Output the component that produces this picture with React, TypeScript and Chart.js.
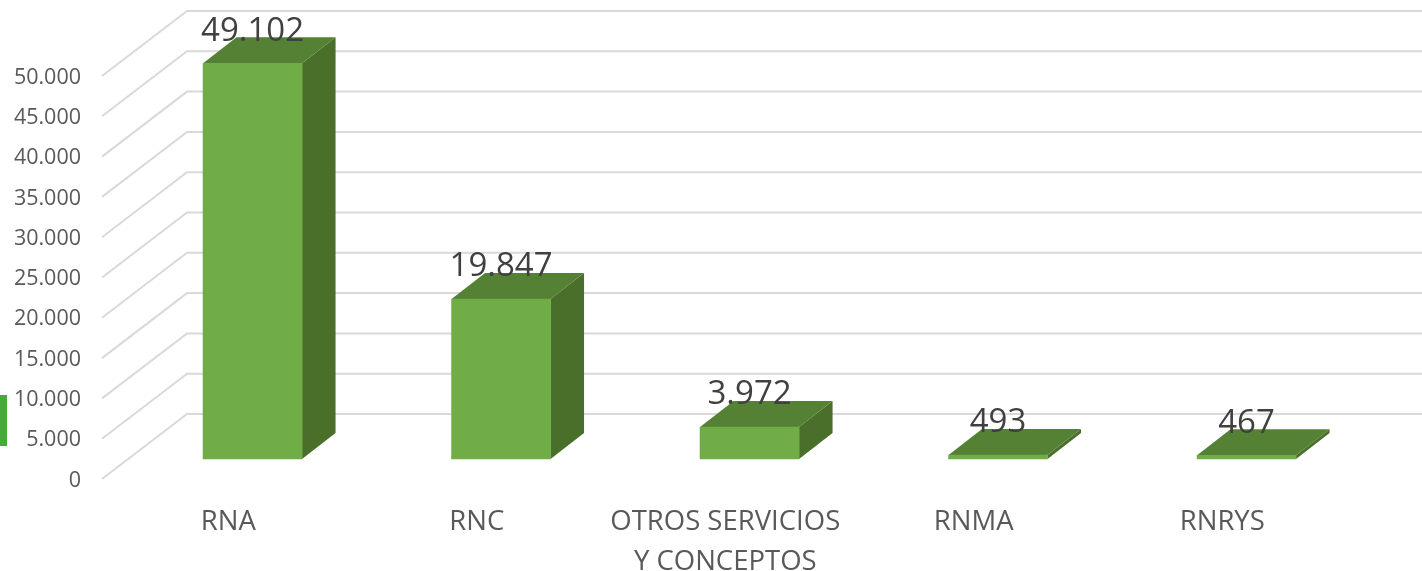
import React, { useEffect, useRef } from "react";
import { Chart, registerables } from "chart.js";

Chart.register(...registerables);

const categories: (string | string[])[] = ["RNA", "RNC", ["OTROS SERVICIOS", "Y CONCEPTOS"], "RNMA", "RNRYS"];
const values = [49102, 19847, 3972, 493, 467];
const valueLabels = ["49.102", "19.847", "3.972", "493", "467"];
const tickStep = 5000;
const axisMax = 50000;

const FONT = '"Open Sans", "Noto Sans", sans-serif';
const BAR_SHIFT = { x: 24.3, y: -20 };
const BAR_DEPTH = { x: 33.5, y: -26 };
const WALL_DEPTH = { x: 85, y: -65 };

const poly = (ctx: CanvasRenderingContext2D, pts: number[][], color: string) => {
  ctx.beginPath();
  pts.forEach(([x, y], i) => (i ? ctx.lineTo(x, y) : ctx.moveTo(x, y)));
  ctx.closePath();
  ctx.fillStyle = color;
  ctx.fill();
};

const perspective = {
  id: "perspective",
  beforeDatasetsDraw(chart: any) {
    const { ctx, chartArea, scales } = chart;
    ctx.save();
    ctx.strokeStyle = "#d9d9d9";
    ctx.lineWidth = 2;
    scales.y.ticks.forEach((t: any) => {
      const y = scales.y.getPixelForValue(t.value);
      const x0 = chartArea.left - 2;
      ctx.beginPath();
      ctx.moveTo(x0, y);
      ctx.lineTo(x0 + WALL_DEPTH.x, y + WALL_DEPTH.y);
      ctx.lineTo(chartArea.right + WALL_DEPTH.x, y + WALL_DEPTH.y);
      ctx.stroke();
    });
    ctx.restore();
  },
  beforeDatasetDraw(chart: any, args: any) {
    const { ctx } = chart;
    ctx.save();
    ctx.translate(BAR_SHIFT.x, BAR_SHIFT.y);
    args.meta.data.forEach((bar: any) => {
      const l = bar.x - bar.width / 2;
      const r = bar.x + bar.width / 2;
      const d = BAR_DEPTH;
      poly(ctx, [[r, bar.y], [r + d.x, bar.y + d.y], [r + d.x, bar.base + d.y], [r, bar.base]], "#4a6f2b");
      poly(ctx, [[l, bar.y], [l + d.x, bar.y + d.y], [r + d.x, bar.y + d.y], [r, bar.y]], "#558135");
    });
  },
  afterDatasetDraw(chart: any) {
    chart.ctx.restore();
  },
  afterDatasetsDraw(chart: any) {
    const { ctx } = chart;
    const meta = chart.getDatasetMeta(0);
    ctx.save();
    ctx.font = `33px ${FONT}`;
    ctx.fillStyle = "#404040";
    ctx.textAlign = "center";
    ctx.textBaseline = "middle";
    meta.data.forEach((bar: any, i: number) => {
      ctx.fillText(valueLabels[i], bar.x + BAR_SHIFT.x, bar.y + BAR_SHIFT.y - 32);
    });
    ctx.restore();
  },
};

export default function App() {
  const ref = useRef<HTMLCanvasElement>(null);
  useEffect(() => {
    const chart = new Chart(ref.current!, {
      type: "bar",
      data: {
        labels: categories as any,
        datasets: [
          {
            data: values,
            backgroundColor: "#70ad47",
            barThickness: 99,
            clip: false as any,
          },
        ],
      },
      options: {
        responsive: false,
        animation: false,
        layout: { padding: { top: 76, right: 75.5, left: 0, bottom: 0 } },
        plugins: { legend: { display: false }, tooltip: { enabled: false } },
        scales: {
          x: {
            grid: { display: false, drawTicks: false },
            border: { display: false },
            afterFit: (s: any) => { s.height = 92; },
            ticks: {
              maxRotation: 0,
              minRotation: 0,
              autoSkip: false,
              padding: 23,
              color: "#595959",
              font: { family: FONT, size: 27.5, lineHeight: 1.45 },
            },
          },
          y: {
            min: 0,
            max: axisMax,
            grid: { display: false, drawTicks: false },
            border: { display: false },
            afterFit: (s: any) => { s.width = 104; },
            ticks: {
              stepSize: tickStep,
              padding: 23,
              labelOffset: 1.5,
              color: "#595959",
              font: { family: FONT, size: 21.5 },
              callback: (v: any) => String(v).replace(/\B(?=(\d{3})+$)/g, "."),
            },
          },
        },
      },
      plugins: [perspective],
    });
    return () => chart.destroy();
  }, []);
  return (
    <div style={{ position: "absolute", left: 0, top: 0, width: 1422, height: 571, overflow: "hidden", background: "#fff" }}>
      <canvas ref={ref} width={1422} height={571} style={{ display: "block" }} />
      <div style={{ position: "absolute", left: 0, top: 395, width: 7, height: 51, background: "#45ab38" }} />
    </div>
  );
}
